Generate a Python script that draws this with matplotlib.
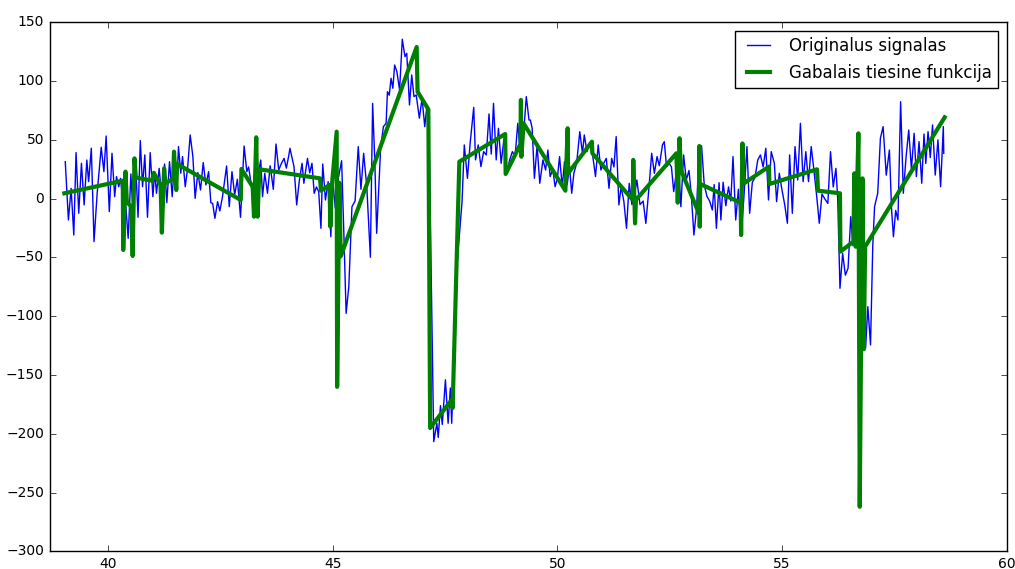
import matplotlib
matplotlib.use("Agg")
import matplotlib.pyplot as plt

# Original signal: sample positions and amplitudes
sig_x = [
    39.05, 39.12, 39.18, 39.24, 39.29, 39.35, 39.41, 39.47, 39.53, 39.57,
    39.63, 39.69, 39.76, 39.85, 39.91, 39.96, 40.03, 40.09, 40.15, 40.19,
    40.24, 40.28, 40.33, 40.39, 40.45, 40.51, 40.55, 40.61, 40.67, 40.72,
    40.77, 40.82, 40.88, 40.94, 41.00, 41.04, 41.08, 41.14, 41.20, 41.26,
    41.31, 41.37, 41.43, 41.49, 41.53, 41.57, 41.62, 41.66, 41.72, 41.77,
    41.83, 41.89, 41.94, 42.00, 42.06, 42.12, 42.18, 42.24, 42.29, 42.33,
    42.38, 42.44, 42.49, 42.55, 42.64, 42.70, 42.76, 42.82, 42.88, 42.95,
    43.03, 43.09, 43.13, 43.19, 43.26, 43.33, 43.40, 43.44, 43.49, 43.55,
    43.61, 43.68, 43.74, 43.80, 43.86, 43.92, 43.97, 44.02, 44.05, 44.14,
    44.20, 44.26, 44.32, 44.36, 44.44, 44.49, 44.54, 44.59, 44.64, 44.69,
    44.74, 44.78, 44.84, 44.90, 44.96, 45.00, 45.06, 45.13, 45.20, 45.25,
    45.30, 45.36, 45.43, 45.50, 45.57, 45.63, 45.69, 45.76, 45.84, 45.89,
    45.94, 45.98, 46.07, 46.13, 46.19, 46.22, 46.26, 46.30, 46.34, 46.38,
    46.43, 46.49, 46.55, 46.61, 46.65, 46.71, 46.76, 46.81, 46.86, 46.93,
    46.99, 47.05, 47.10, 47.14, 47.25, 47.32, 47.35, 47.40, 47.44, 47.51,
    47.57, 47.62, 47.65, 47.76, 47.88, 47.93, 48.00, 48.06, 48.14, 48.18,
    48.24, 48.30, 48.36, 48.42, 48.48, 48.53, 48.58, 48.64, 48.69, 48.75,
    48.81, 48.88, 48.94, 49.00, 49.06, 49.12, 49.18, 49.25, 49.31, 49.37,
    49.40, 49.44, 49.49, 49.55, 49.61, 49.68, 49.74, 49.79, 49.84, 49.90,
    49.95, 50.00, 50.05, 50.11, 50.16, 50.22, 50.27, 50.32, 50.37, 50.43,
    50.50, 50.56, 50.60, 50.66, 50.72, 50.79, 50.85, 50.91, 50.97, 51.03,
    51.09, 51.15, 51.21, 51.26, 51.31, 51.37, 51.42, 51.48, 51.54, 51.60,
    51.66, 51.71, 51.77, 51.84, 51.91, 51.97, 52.03, 52.10, 52.16, 52.22,
    52.27, 52.34, 52.38, 52.43, 52.49, 52.54, 52.59, 52.64, 52.69, 52.75,
    52.81, 52.87, 52.93, 52.98, 53.04, 53.10, 53.16, 53.21, 53.27, 53.33,
    53.39, 53.45, 53.49, 53.54, 53.60, 53.64, 53.69, 53.75, 53.81, 53.86,
    53.91, 53.97, 54.03, 54.09, 54.15, 54.22, 54.28, 54.34, 54.40, 54.46,
    54.52, 54.58, 54.64, 54.70, 54.76, 54.83, 54.88, 54.94, 55.00, 55.06,
    55.12, 55.17, 55.23, 55.29, 55.35, 55.41, 55.47, 55.53, 55.59, 55.65,
    55.71, 55.77, 55.83, 55.89, 55.95, 56.02, 56.08, 56.14, 56.20, 56.24,
    56.29, 56.35, 56.41, 56.47, 56.53, 56.58, 56.63, 56.68, 56.74, 56.80,
    56.86, 56.91, 56.97, 57.02, 57.06, 57.13, 57.19, 57.25, 57.32, 57.39,
    57.44, 57.48, 57.53, 57.58, 57.64, 57.70, 57.76, 57.82, 57.88, 57.94,
    57.99, 58.05, 58.11, 58.16, 58.20, 58.25, 58.30, 58.35, 58.41, 58.47,
    58.53, 58.59, 58.60,
]
sig_y = [
    31.5, -18.1, 8.8, -30.9, 39.2, -12.4, 30.1, -5.3, 32.9, 14.5,
    42.9, -36.5, 4.6, 43.7, 23.0, 53.3, -11.0, 38.6, 1.7, 18.8,
    10.2, 17.3, -1.1, -2.5, -33.7, 21.0, -6.8, 34.3, -15.8, 49.4,
    10.2, 37.2, -15.8, 39.2, 1.7, 23.0, 4.6, 25.8, -1.1, 29.5,
    -3.4, 31.5, 1.7, 40.0, 8.0, 44.3, 21.6, 35.8, 10.2, 25.0,
    54.2, 35.8, 0.3, 22.2, 7.4, 30.7, 11.7, 23.0, -3.4, -4.0,
    -16.7, -2.5, -10.4, 2.0, 27.8, -6.8, 23.0, 3.2, 16.5, -15.8,
    44.8, 23.0, 27.0, 11.7, -14.0, 18.0, 32.9, 1.7, 21.6, 4.6,
    28.0, 8.0, 46.5, 24.4, 30.0, 34.3, 26.0, 35.8, 42.9, 27.3,
    -5.3, 15.9, 30.1, 13.1, 34.3, 22.0, 30.1, 4.6, 10.0, 6.0,
    -25.2, 29.5, -1.1, 14.5, -32.3, 15.9, -8.0, 18.0, 32.3, -30.0,
    -97.5, -74.8, -6.8, -2.0, 44.3, 8.0, 38.6, 10.2, -49.8, 81.1,
    30.1, -29.4, 44.3, 61.3, 64.1, 91.0, 88.0, 102.4, 93.9, 113.7,
    108.0, 92.5, 135.6, 120.8, 123.6, 79.7, 105.2, 86.8, 88.2, 68.4,
    85.4, 61.3, 79.7, 70.0, -206.6, -191.0, -203.0, -176.0, -192.0, -154.0,
    -191.0, -161.0, -191.0, -60.0, -2.5, 45.7, 17.3, 47.1, 77.7, 33.0,
    45.7, 27.3, 40.0, 37.2, 72.1, 38.0, 81.1, 33.0, 59.9, 30.1,
    50.0, 23.0, 33.0, 40.0, 36.0, 64.1, 38.0, 55.6, 86.8, 66.9,
    66.9, 60.0, 17.3, 45.0, 13.1, 33.0, 24.4, 41.4, 18.8, 25.0,
    10.2, 17.0, 35.8, 10.2, 31.5, 12.0, 28.0, 4.6, 22.0, 30.0,
    57.0, 38.6, 54.2, 40.0, 47.7, 36.0, 18.8, 45.7, 24.4, 30.0,
    34.3, 8.8, 34.3, 27.0, 52.8, -5.3, 10.0, -2.0, -25.2, 13.1,
    -5.0, 1.0, 15.9, -5.0, -2.0, -21.0, 5.0, 38.6, 21.6, 35.8,
    28.0, 45.7, 48.5, 27.3, 30.0, 27.0, 6.0, 20.0, 32.9, -6.8,
    37.2, 16.0, 24.0, 4.0, -30.9, -8.0, 44.0, 45.0, 11.7, 2.0,
    -2.0, -9.6, 12.0, -25.2, 13.6, -18.1, 14.0, -6.0, 10.0, -2.0,
    35.8, -18.1, 8.0, -30.9, 0.0, 44.3, -12.4, 14.0, 18.0, 32.9,
    37.2, 27.0, 42.9, -1.1, 40.0, 30.1, -2.5, 21.6, 7.4, -5.0,
    -20.9, 37.2, -12.4, 44.3, 15.9, 64.1, 14.5, 40.0, 14.5, 44.3,
    24.4, 3.0, -20.9, 4.0, 0.0, -4.0, 40.0, 10.0, 25.8, 0.0,
    -76.2, -46.5, -65.0, -59.2, -15.3, -40.0, -30.0, -20.0, -60.0, -100.0,
    -127.2, -91.8, -124.4, -40.0, -6.8, 4.6, 51.4, 61.3, 20.0, 41.4,
    -10.0, -32.3, -10.0, -18.1, 82.5, 4.6, 35.0, 58.4, 25.0, 55.6,
    18.8, 48.5, 13.1, 55.0, 30.0, 57.0, 35.0, 62.7, 20.1, 50.0,
    10.2, 61.3, 38.6,
]

# Piecewise linear fit: breakpoints and values
fit_x = [
    39.03, 40.33, 40.34, 40.39, 40.42, 40.52, 40.55, 40.59, 40.62, 40.98,
    41.02, 41.17, 41.20, 41.25, 41.28, 41.45, 41.47, 41.52, 41.54, 42.955,
    42.97, 43.22, 43.25, 43.30, 43.33, 43.37, 44.72, 44.74, 44.93, 44.95,
    44.98, 45.09, 45.10, 45.15, 45.18, 46.87, 46.89, 47.13, 47.17, 47.65,
    47.67, 47.82, 48.84, 48.85, 49.18, 49.19, 49.20, 49.25, 50.18, 50.23,
    50.24, 50.77, 50.78, 51.68, 51.69, 51.73, 51.75, 52.65, 52.68, 52.72,
    52.75, 53.15, 53.16, 53.17, 53.18, 54.08, 54.09, 54.12, 54.15, 54.71,
    54.72, 55.78, 55.80, 56.29, 56.30, 56.59, 56.61, 56.64, 56.70, 56.73,
    56.79, 56.82, 56.85, 58.62,
]
fit_y = [
    4.6, 15.3, -43.6, 23.0, -2.5, -7.0, -48.7, 34.3, 18.0, 15.3,
    22.0, 11.7, -28.9, 25.8, 13.0, 17.0, 40.0, 7.4, 29.5, -1.1,
    25.3, 10.2, -15.3, 52.2, -15.3, 25.0, 17.3, 6.8, 11.7, -23.8,
    10.0, 57.0, -160.0, 13.6, -49.0, 129.0, 91.0, 76.0, -195.0, -171.0,
    -178.0, 31.5, 55.0, 21.0, 46.5, 84.0, 35.7, 64.0, 6.8, 59.9,
    21.6, 48.5, 38.6, -1.1, 33.0, -21.0, -1.0, 38.6, -3.4, 51.4,
    24.4, -12.4, 44.8, -23.8, 12.5, -3.4, -30.9, 47.0, 13.0, 27.3,
    12.5, 25.0, 6.8, 4.6, -45.0, -36.5, 21.6, -40.8, 55.6, -262.0,
    17.3, -128.0, -40.8, 69.2,
]

labels = ["Originalus signalas", "Gabalais tiesine funkcija"]

plt.style.use("classic")
plt.rcParams["savefig.facecolor"] = "white"

fig = plt.figure(figsize=(10.15, 5.69), dpi=100, facecolor="white")
ax = fig.add_axes([0.0488, 0.0308, 0.943, 0.930])

ax.plot(sig_x, sig_y, color="b", linewidth=1.0, label=labels[0])
ax.plot(fit_x, fit_y, color="g", linewidth=3.0, label=labels[1])

ax.set_xlim(38.7, 60)
ax.set_ylim(-300, 150)
ax.set_xticks([40, 45, 50, 55, 60])
ax.set_yticks(range(-300, 151, 50))
ax.tick_params(labelsize=10)

ax.legend(loc="upper right", fontsize=12)

fig.savefig("out.png", dpi=100, facecolor="white")
